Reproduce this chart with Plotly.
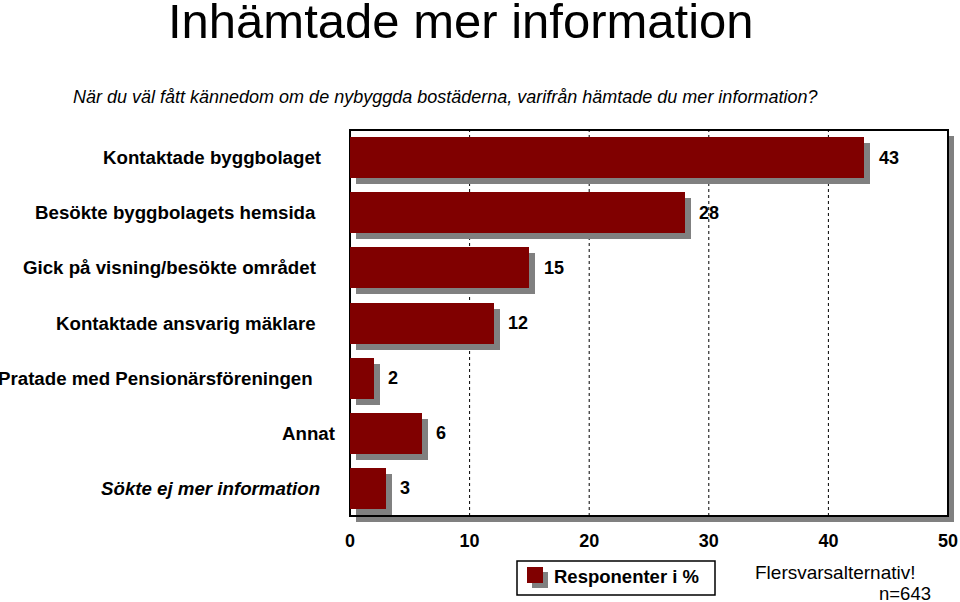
import plotly.graph_objects as go

categories = [
    "Kontaktade byggbolaget",
    "Besökte byggbolagets hemsida",
    "Gick på visning/besökte området",
    "Kontaktade ansvarig mäklare",
    "Pratade med Pensionärsföreningen",
    "Annat",
    "Sökte ej mer information",
]
values = [43, 28, 15, 12, 2, 6, 3]
x_ticks = [0, 10, 20, 30, 40, 50]
title_text = "Inhämtade mer information"
subtitle_text = "När du väl fått kännedom om de nybyggda bostäderna, varifrån hämtade du mer information?"
legend_text = "Responenter i %"
note1 = "Flersvarsalternativ!"
note2 = "n=643"

# style: right edge (px) of each category label, as in the original layout
label_right_px = [323, 318, 318, 318, 315, 337, 322]

W, H = 960, 602
L, R, T, B = 350, 12, 130, 86
PW = W - L - R
PH = H - T - B
XMAX = 50
px_per_unit = PW / XMAX
row_px = PH / len(categories)


def px(xp):
    return (xp - L) / PW


def py(yp):
    return (H - B - yp) / PH


FONT = "Liberation Sans, Arial, sans-serif"
BAR = "#800000"
SHADOW = "#808080"

pos = list(range(len(categories)))

off_x = 6 / px_per_unit
off_y = 6 / row_px
bw = 41 / row_px

fig = go.Figure()
# shadow bars
fig.add_trace(go.Bar(
    y=[p + off_y for p in pos], x=values, base=off_x, orientation="h",
    width=bw, marker=dict(color=SHADOW, line=dict(width=0)),
    showlegend=False, hoverinfo="skip",
))
# main bars
fig.add_trace(go.Bar(
    y=pos, x=values, orientation="h", width=bw,
    marker=dict(color=BAR, line=dict(width=0)),
    name=legend_text, showlegend=False,
))

shapes = []
# frame shadow
shapes.append(dict(type="rect", xref="paper", yref="paper",
                   x0=6 / PW, x1=1 + 6 / PW, y0=-6 / PH, y1=1 - 6 / PH,
                   fillcolor=SHADOW, line=dict(width=0), layer="below"))
# plot frame
shapes.append(dict(type="rect", xref="paper", yref="paper",
                   x0=0, x1=1, y0=0, y1=1,
                   fillcolor="white", line=dict(color="black", width=2), layer="below"))
# dotted gridlines
for t in x_ticks[1:-1]:
    shapes.append(dict(type="line", xref="x", yref="paper", x0=t, x1=t, y0=0, y1=1,
                       line=dict(color="black", width=1, dash="dot"), layer="below"))

# legend box
shapes.append(dict(type="rect", xref="paper", yref="paper",
                   x0=px(517), x1=px(715), y0=py(595), y1=py(561),
                   fillcolor="white", line=dict(color="black", width=1.5), layer="above"))
shapes.append(dict(type="rect", xref="paper", yref="paper",
                   x0=px(532), x1=px(548), y0=py(588), y1=py(572),
                   fillcolor=SHADOW, line=dict(width=0), layer="above"))
shapes.append(dict(type="rect", xref="paper", yref="paper",
                   x0=px(527), x1=px(543), y0=py(583), y1=py(567),
                   fillcolor=BAR, line=dict(width=0), layer="above"))

annotations = []
# category labels
for i, (p, c) in enumerate(zip(pos, categories)):
    txt = "<b><i>" + c + "</i></b>" if i == len(categories) - 1 else "<b>" + c + "</b>"
    annotations.append(dict(x=px(label_right_px[i]), y=p, xref="paper", yref="y", text=txt,
                            showarrow=False, xanchor="right", yanchor="middle",
                            font=dict(size=18.7, color="black", family=FONT)))
# value labels
for p, v in zip(pos, values):
    annotations.append(dict(x=v, y=p, xref="x", yref="y", text="<b>%d</b>" % v,
                            showarrow=False, xanchor="left", yanchor="middle",
                            xshift=12.5, font=dict(size=18, color="black", family=FONT)))

annotations.append(dict(x=px(166), y=py(21), xref="paper", yref="paper",
                        text=title_text, showarrow=False, xanchor="left", yanchor="middle",
                        font=dict(size=49, color="black", family=FONT)))
annotations.append(dict(x=px(71), y=py(97), xref="paper", yref="paper",
                        text="<i>" + subtitle_text + "</i>", showarrow=False,
                        xanchor="left", yanchor="middle",
                        font=dict(size=18, color="black", family=FONT)))
annotations.append(dict(x=px(552), y=py(576), xref="paper", yref="paper",
                        text="<b>" + legend_text + "</b>", showarrow=False,
                        xanchor="left", yanchor="middle",
                        font=dict(size=18.5, color="black", family=FONT)))
annotations.append(dict(x=px(753), y=py(572), xref="paper", yref="paper",
                        text=note1, showarrow=False, xanchor="left", yanchor="middle",
                        font=dict(size=19, color="black", family=FONT)))
annotations.append(dict(x=px(877), y=py(593), xref="paper", yref="paper",
                        text=note2, showarrow=False, xanchor="left", yanchor="middle",
                        font=dict(size=18.5, color="black", family=FONT)))

fig.update_layout(
    width=W, height=H,
    margin=dict(l=L, r=R, t=T, b=B, pad=0, autoexpand=False),
    paper_bgcolor="white",
    plot_bgcolor="rgba(0,0,0,0)",
    barmode="overlay",
    bargap=0,
    showlegend=False,
    shapes=shapes,
    annotations=annotations,
    font=dict(family=FONT, color="black"),
    xaxis=dict(range=[0, XMAX], tickvals=x_ticks, ticktext=["<b>%d</b>" % t for t in x_ticks],
               showgrid=False, zeroline=False, showline=False, automargin=False,
               ticks="outside", ticklen=8, tickcolor="rgba(0,0,0,0)",
               tickfont=dict(size=18, color="black", family=FONT), fixedrange=True),
    yaxis=dict(range=[len(categories) - 0.5, -0.5], tickvals=pos, showticklabels=False,
               showgrid=False, zeroline=False, showline=False, ticks="", automargin=False,
               fixedrange=True),
)

fig.write_html(
    "out.html",
    config={"displayModeBar": False},
    post_script="document.body.style.margin='0';document.body.style.overflow='hidden';",
)
